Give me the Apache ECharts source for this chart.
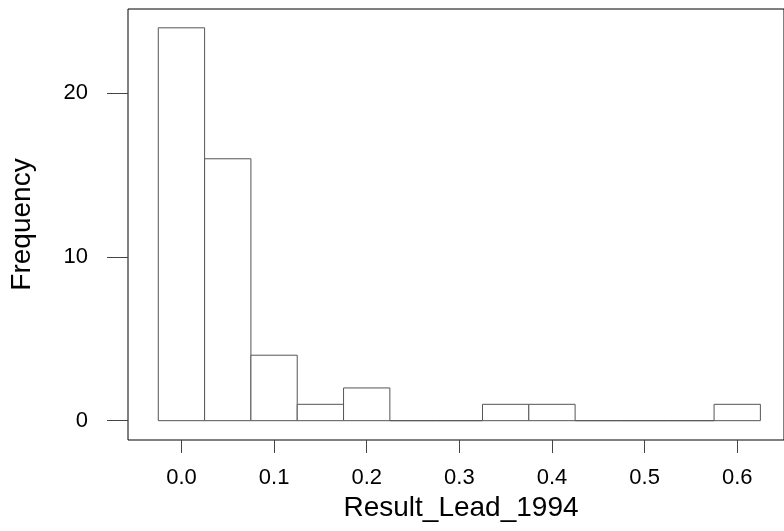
<!DOCTYPE html>
<html>
<head>
<meta charset="utf-8">
<script src="https://cdn.jsdelivr.net/npm/echarts@6/dist/echarts.min.js"></script>
<style>
  html, body { margin: 0; padding: 0; background: #fff; }
  #chart { width: 784px; height: 531px; }
</style>
</head>
<body>
<div id="chart"></div>
<script>
// histogram bins (left edge, right edge) and counts
const binLeft = [-0.025, 0.025, 0.075, 0.125, 0.175, 0.225, 0.275, 0.325, 0.375, 0.425, 0.475, 0.525, 0.575];
const binRight = [0.025, 0.075, 0.125, 0.175, 0.225, 0.275, 0.325, 0.375, 0.425, 0.475, 0.525, 0.575, 0.625];
const counts = [24, 16, 4, 1, 2, 0, 0, 1, 1, 0, 0, 0, 1];

const xTicks = [0.0, 0.1, 0.2, 0.3, 0.4, 0.5, 0.6];
const yTicks = [0, 10, 20];

const font = '"Liberation Sans", Arial, sans-serif';

const chart = echarts.init(document.getElementById('chart'));

const data = counts.map((c, i) => [binLeft[i], binRight[i], c]);

const option = {
  animation: false,
  grid: {
    left: 128, top: 9, right: -3, bottom: 91,
    show: true, borderColor: '#000', borderWidth: 1, backgroundColor: '#fff'
  },
  xAxis: {
    type: 'value',
    min: -0.0577,
    max: 0.6505,
    name: 'Result_Lead_1994',
    nameLocation: 'middle',
    nameGap: 43,
    nameTextStyle: { fontFamily: font, fontSize: 28, color: '#000', padding: [0, 0, 0, 10] },
    axisLine: { show: false, onZero: false },
    axisTick: { show: true, length: 13, customValues: xTicks, lineStyle: { color: '#444' } },
    axisLabel: {
      customValues: xTicks, margin: 27,
      fontFamily: font, fontSize: 22, color: '#000',
      formatter: v => v.toFixed(1)
    },
    splitLine: { show: false }
  },
  yAxis: {
    type: 'value',
    min: -1.18,
    max: 25.15,
    name: 'Frequency',
    nameLocation: 'middle',
    nameGap: 92,
    nameRotate: 90,
    nameTextStyle: { fontFamily: font, fontSize: 28, color: '#000' },
    axisLine: { show: false, onZero: false },
    axisTick: { show: true, length: 21, customValues: yTicks, lineStyle: { color: '#444' } },
    axisLabel: {
      customValues: yTicks, margin: 40,
      fontFamily: font, fontSize: 22, color: '#000'
    },
    splitLine: { show: false }
  },
  series: [{
    type: 'custom',
    data: data,
    encode: { x: [0, 1], y: 2 },
    renderItem: function (params, api) {
      const p0 = api.coord([api.value(0), 0]);
      const p1 = api.coord([api.value(1), api.value(2)]);
      return {
        type: 'rect',
        shape: { x: p0[0], y: p1[1], width: p1[0] - p0[0], height: p0[1] - p1[1] },
        style: { fill: '#fff', stroke: '#555', lineWidth: 1 }
      };
    }
  }]
};

chart.setOption(option);
</script>
</body>
</html>
